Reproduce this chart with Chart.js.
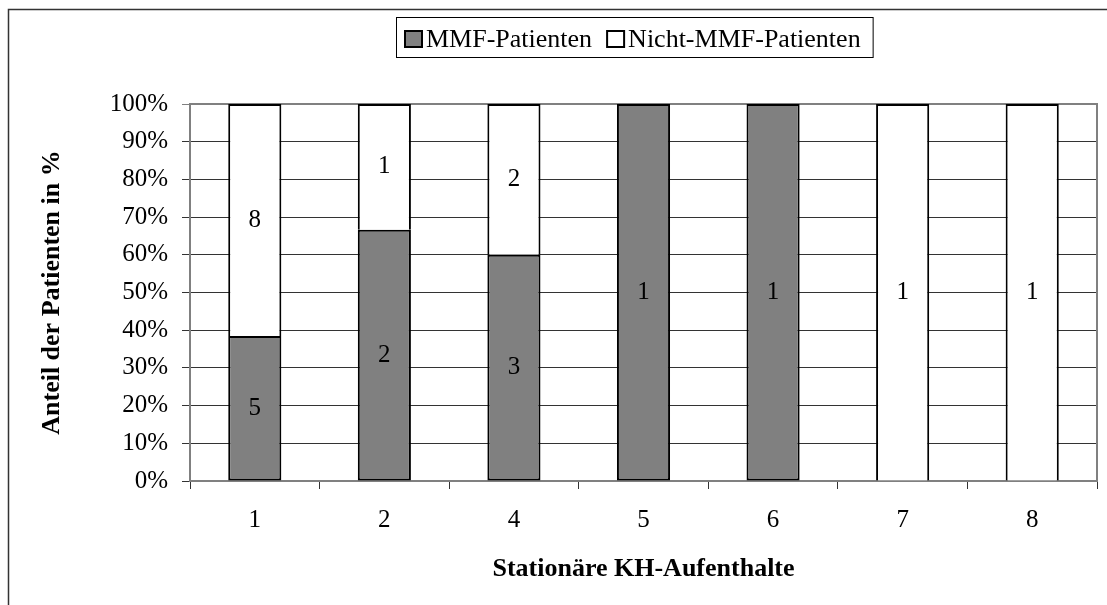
<!DOCTYPE html>
<html><head><meta charset="utf-8">
<script src="https://cdn.jsdelivr.net/npm/chart.js@4/dist/chart.umd.min.js"></script>
<style>html,body{margin:0;padding:0;background:#fff;overflow:hidden}#wrap{position:relative;width:1107px;height:605px}</style>
</head><body><div id="wrap"><canvas id="c" width="1107" height="605"></canvas></div>
<script>
const categories = ['1', '2', '4', '5', '6', '7', '8'];
const mmfCounts = [5, 2, 3, 1, 1, 0, 0];
const nonMmfCounts = [8, 1, 2, 0, 0, 1, 1];
const seriesNames = ['MMF-Patienten', 'Nicht-MMF-Patienten'];
const yTickValues = [0, 10, 20, 30, 40, 50, 60, 70, 80, 90, 100];
const xAxisTitle = 'Stationäre KH-Aufenthalte';
const yAxisTitle = 'Anteil der Patienten in %';

const totals = categories.map((_, i) => mmfCounts[i] + nonMmfCounts[i]);
const mmfPct = mmfCounts.map((v, i) => v / totals[i] * 100);
const nonMmfPct = nonMmfCounts.map((v, i) => v / totals[i] * 100);
const countsBySet = [mmfCounts, nonMmfCounts];

const SERIF = '"Liberation Serif", "Times New Roman", serif';

const framePlugin = {
  id: 'frame',
  beforeDatasetsDraw(chart) {
    const {ctx, chartArea: a} = chart;
    ctx.save();
    ctx.strokeStyle = '#808080';
    ctx.lineWidth = 2;
    ctx.strokeRect(a.left, a.top, a.right - a.left, a.bottom - a.top);
    ctx.restore();
  },
  afterDraw(chart) {
    const {ctx} = chart;
    ctx.save();
    // outer frame (top and left visible)
    ctx.strokeStyle = '#333';
    ctx.lineWidth = 1.5;
    ctx.beginPath();
    ctx.moveTo(8.5, 605); ctx.lineTo(8.5, 9.5); ctx.lineTo(1107, 9.5);
    ctx.stroke();
    // legend
    ctx.font = '26px ' + SERIF;
    ctx.textBaseline = 'middle';
    ctx.textAlign = 'left';
    const cy = 39;
    let x = 405;
    const fills = ['#808080', '#ffffff'];
    let lastRight = x;
    seriesNames.forEach((name, i) => {
      ctx.fillStyle = fills[i];
      ctx.fillRect(x, cy - 8, 17, 16);
      ctx.strokeStyle = '#000';
      ctx.lineWidth = 2;
      ctx.strokeRect(x, cy - 8, 17, 16);
      ctx.fillStyle = '#000';
      ctx.fillText(name, x + 21, cy + 1);
      const w = ctx.measureText(name).width;
      lastRight = x + 21 + w;
      x = x + 21 + w + 15;
    });
    const right = lastRight + 12;
    ctx.strokeStyle = '#000';
    ctx.lineWidth = 1;
    ctx.strokeRect(396.5, 17.5, right - 396, 40);
    ctx.restore();
  },
  afterDatasetsDraw(chart) {
    const {ctx} = chart;
    ctx.save();
    ctx.font = '25px ' + SERIF;
    ctx.fillStyle = '#000';
    ctx.textAlign = 'center';
    ctx.textBaseline = 'middle';
    chart.data.datasets.forEach((ds, di) => {
      const meta = chart.getDatasetMeta(di);
      meta.data.forEach((bar, i) => {
        const c = countsBySet[di][i];
        if (!c) return;
        ctx.fillText(String(c), bar.x, (bar.y + bar.base) / 2);
      });
    });
    ctx.restore();
  }
};

new Chart(document.getElementById('c'), {
  type: 'bar',
  data: {
    labels: categories,
    datasets: [
      {label: seriesNames[0], data: mmfPct, backgroundColor: '#808080', borderColor: '#000', borderWidth: 2, borderSkipped: false},
      {label: seriesNames[1], data: nonMmfPct, backgroundColor: '#ffffff', borderColor: '#000', borderWidth: {top: 2, left: 2, right: 2, bottom: 0}, borderSkipped: false}
    ]
  },
  options: {
    responsive: false,
    animation: false,
    devicePixelRatio: 1,
    layout: {padding: {top: 104, right: 10, bottom: 0, left: 0}},
    datasets: {bar: {categoryPercentage: 1, barPercentage: 0.41}},
    plugins: {legend: {display: false}, tooltip: {enabled: false}},
    scales: {
      x: {
        stacked: true,
        afterFit(s) { s.height = 124; },
        grid: {offset: true, drawOnChartArea: false, drawTicks: true, tickLength: 8, color: '#333'},
        border: {color: '#000', width: 1.5},
        ticks: {font: {family: SERIF, size: 25}, color: '#000', padding: 16},
        title: {display: true, text: xAxisTitle, font: {family: SERIF, size: 26, weight: 'bold'}, color: '#000', padding: {top: 0, bottom: 20}}
      },
      y: {
        stacked: true,
        min: 0, max: 100,
        afterFit(s) { s.width = 190; },
        afterBuildTicks(s) { s.ticks = yTickValues.map(v => ({value: v})); },
        grid: {color: (c) => c.tick && c.tick.value === 100 ? '#808080' : '#333', tickLength: 8, lineWidth: 1},
        border: {color: '#000', width: 1.5},
        ticks: {font: {family: SERIF, size: 25}, color: '#000', padding: 14, callback: (v) => v + '%'},
        title: {display: true, text: yAxisTitle, font: {family: SERIF, size: 26, weight: 'bold'}, color: '#000', padding: {top: 37, bottom: 0}}
      }
    }
  },
  plugins: [framePlugin]
});
</script></body></html>
